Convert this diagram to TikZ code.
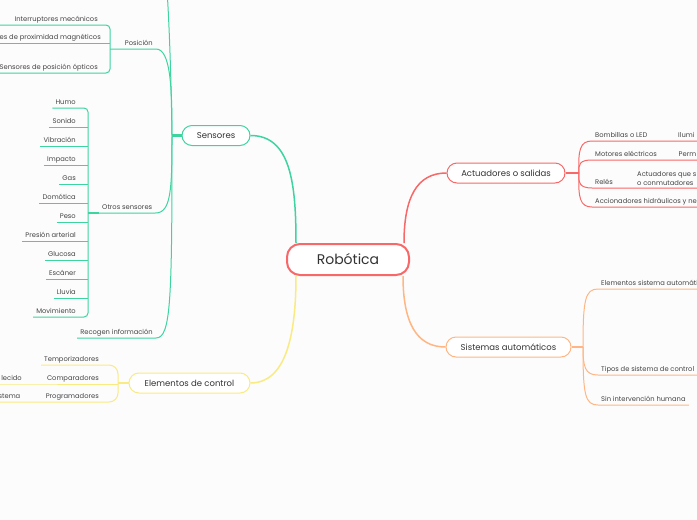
\documentclass[tikz,border=0pt]{standalone}
\usepackage{fontspec}
\setmainfont{Poppins}
\usepackage{tikz}
\usetikzlibrary{positioning,calc}

\definecolor{ink}{RGB}{51,51,51}
\definecolor{inkl}{RGB}{68,68,68}
\definecolor{bgc}{RGB}{252,252,252}
\definecolor{grn}{RGB}{62,212,160}
\definecolor{rd}{RGB}{249,104,104}
\definecolor{org}{RGB}{255,182,132}
\definecolor{ylw}{RGB}{250,234,130}

\begin{document}
\begin{tikzpicture}[x=1pt,y=-1pt,
  root/.style={draw=rd,line width=2pt,rounded corners=13pt,fill=white,minimum width=122pt,minimum height=31pt,font=\fontsize{14}{16}\selectfont,text=ink},
  br/.style={draw,line width=1pt,rounded corners=10pt,fill=white,minimum height=20pt,font=\fontsize{8.5}{10}\selectfont,text=ink},
  lfb/.style={font=\fontsize{6.75}{9.5}\selectfont,text=inkl,inner xsep=3pt,inner ysep=1.8pt},
  lf/.style={lfb,text height=5pt,text depth=1.5pt},
  gl/.style={draw=grn,line width=1pt},
  rl/.style={draw=rd,line width=1pt},
  ol/.style={draw=org,line width=1pt},
  yl/.style={draw=ylw,line width=1pt},
  stub/.style={line width=2.2pt}]
\fill[bgc] (0,0) rectangle (697,520);
\clip (0,0) rectangle (697,520);

% central topic and main branches
\node[root] (root) at (348,259.5) {Robótica};
\node[br,draw=grn,minimum width=68pt] (sensores) at (216,135.5) {Sensores};
\node[br,draw=rd,minimum width=118pt] (actuadores) at (506,173) {Actuadores o salidas};
\node[br,draw=org,minimum width=125pt] (sistemas) at (508.5,347) {Sistemas automáticos};
\node[br,draw=ylw,minimum width=121pt] (control) at (189.5,383) {Elementos de control};

\draw[gl,line width=1.5pt] ([xshift=10pt]root.north west) .. controls +(0,-60) and +(40,0) .. (sensores.east);
\draw[rl,line width=1.5pt] ([xshift=-6pt]root.north east) .. controls +(0,-45) and +(-30,0) .. (actuadores.west);
\draw[yl,line width=1.5pt] ([xshift=10pt]root.south west) .. controls +(0,60) and +(35,0) .. (control.east);
\draw[ol,line width=1.5pt] ([xshift=-7pt]root.south east) .. controls +(0,45) and +(-30,0) .. (sistemas.west);

% junctions
\coordinate (js) at (172,135.5);
\coordinate (jtop) at (167,-10);
\coordinate (jp) at (110,49);
\coordinate (jo) at (88,213);
\coordinate (je) at (118,383);
\coordinate (ja) at (579,173);
\coordinate (jsa) at (583,347);

% Sensores
\node[lf,anchor=south east] (posicion) at (156,49) {Posición};
\node[lf,anchor=south west] (otros) at (99,213) {Otros sensores};
\node[lf,anchor=south east] (recogen) at (156,338) {Recogen información};
\draw[gl,stub] (js) -- (sensores.west);
\draw[gl] (js) .. controls (171,70) and (169,20) .. (jtop);
\draw[gl] (js) .. controls (172,90) and (171,49) .. (posicion.south east) -- (posicion.south west) -- (jp);
\draw[gl] (js) .. controls (172,190) and (171,213) .. (otros.south east) -- (otros.south west);
\draw[gl] (js) .. controls (172,300) and (171,338) .. (recogen.south east) -- (recogen.south west);
\draw[gl,stub] (jo) -- (otros.south west);

\node[lf,anchor=south east] (interruptores) at (101,25) {Interruptores mecánicos};
\node[lf,anchor=south east] (proximidad) at (104,43) {es de proximidad magnéticos};
\node[lf,anchor=south east] (opticos) at (101,73) {Sensores de posición ópticos};
\coordinate (pe1) at (-5,25);
\coordinate (pe2) at (-5,43);
\coordinate (pe3) at (-5,73);
\draw[gl,rounded corners=4pt] (pe1) -- (interruptores.south east -| jp) -- (opticos.south east -| jp) -- (pe3);
\draw[gl] (pe2) -- (proximidad.south east -| jp);

\node[lf,anchor=south east] (humo) at (79,108) {Humo};
\node[lf,anchor=south east] (sonido) at (79,127) {Sonido};
\node[lf,anchor=south east] (vibracion) at (79,146) {Vibración};
\node[lf,anchor=south east] (impacto) at (79,165) {Impacto};
\node[lf,anchor=south east] (gas) at (79,184) {Gas};
\node[lf,anchor=south east] (domotica) at (79,203) {Domótica};
\node[lf,anchor=south east] (peso) at (79,222) {Peso};
\node[lf,anchor=south east] (presion) at (79,241) {Presión arterial};
\node[lf,anchor=south east] (glucosa) at (79,260) {Glucosa};
\node[lf,anchor=south east] (escaner) at (79,279) {Escáner};
\node[lf,anchor=south east] (lluvia) at (79,298) {Lluvia};
\node[lf,anchor=south east] (movimiento) at (79,317) {Movimiento};
\draw[gl,rounded corners=4pt] (humo.south west) -- (humo.south west -| jo) -- (movimiento.south west -| jo) -- (movimiento.south west);
\draw[gl] (sonido.south west) -- (sonido.south west -| jo);
\draw[gl] (vibracion.south west) -- (vibracion.south west -| jo);
\draw[gl] (impacto.south west) -- (impacto.south west -| jo);
\draw[gl] (gas.south west) -- (gas.south west -| jo);
\draw[gl] (domotica.south west) -- (domotica.south west -| jo);
\draw[gl] (peso.south west) -- (peso.south west -| jo);
\draw[gl] (presion.south west) -- (presion.south west -| jo);
\draw[gl] (glucosa.south west) -- (glucosa.south west -| jo);
\draw[gl] (escaner.south west) -- (escaner.south west -| jo);
\draw[gl] (lluvia.south west) -- (lluvia.south west -| jo);

% Elementos de control
\node[lf,anchor=south east] (temporizadores) at (102,365) {Temporizadores};
\node[lf,anchor=south east] (comparadores) at (102,384) {Comparadores};
\node[lf,anchor=south east] (programadores) at (102,402) {Programadores};
\node[lf,anchor=south east] (lecido) at (25,384) {lecido};
\node[lf,anchor=south east] (stema) at (23.5,402) {stema};
\coordinate (ce1) at (-5,384);
\coordinate (ce2) at (-5,402);
\draw[yl,stub] (je) -- (control.west);
\draw[yl,rounded corners=9pt] (temporizadores.south west) -- (temporizadores.south west -| je) -- (programadores.south west -| je) -- (ce2);
\draw[yl] (ce1) -- (lecido.south west) -- (comparadores.south east -| je);

% Actuadores o salidas
\node[lf,anchor=south west] (bombillas) at (592,141) {Bombillas o LED};
\node[lf,anchor=south west] (ilumi) at (675,141) {Ilumi};
\node[lf,anchor=south west] (motores) at (592,160) {Motores eléctricos};
\node[lf,anchor=south west] (perm) at (675.5,160) {Perm};
\node[lf,anchor=south west] (reles) at (592,188) {Relés};
\node[lfb,align=left,anchor=south west] (actque) at (634,188) {Actuadores que s\\o conmutadores};
\node[lf,anchor=south west] (accionadores) at (592,207) {Accionadores hidráulicos y ne};
\coordinate (ae1) at (705,141);
\coordinate (ae2) at (705,160);
\coordinate (ae3) at (705,188);
\coordinate (ae4) at (705,207);
\draw[rl,stub] (actuadores.east) -- (ja);
\draw[rl] (ja) .. controls (578,150) and (580,141) .. (bombillas.south west) -- (ae1);
\draw[rl] (ja) .. controls (578,164) and (580,160) .. (motores.south west) -- (ae2);
\draw[rl] (ja) .. controls (578,183) and (580,188) .. (reles.south west) -- (ae3);
\draw[rl] (ja) .. controls (578,198) and (580,207) .. (accionadores.south west) -- (ae4);

% Sistemas automaticos
\node[lf,anchor=south west] (elemsist) at (598,289) {Elementos sistema automáti};
\node[lf,anchor=south west] (tipos) at (598,375) {Tipos de sistema de control};
\node[lf,anchor=south west] (sinint) at (598,405) {Sin intervención humana};
\coordinate (se1) at (705,289);
\coordinate (se2) at (705,375);
\draw[ol,stub] (sistemas.east) -- (jsa);
\draw[ol] (jsa) .. controls (583,300) and (585,289) .. (elemsist.south west) -- (se1);
\draw[ol] (jsa) .. controls (583,367) and (585,375) .. (tipos.south west) -- (se2);
\draw[ol] (jsa) .. controls (583,395) and (585,405) .. (sinint.south west) -- (sinint.south east);
\end{tikzpicture}
\end{document}
